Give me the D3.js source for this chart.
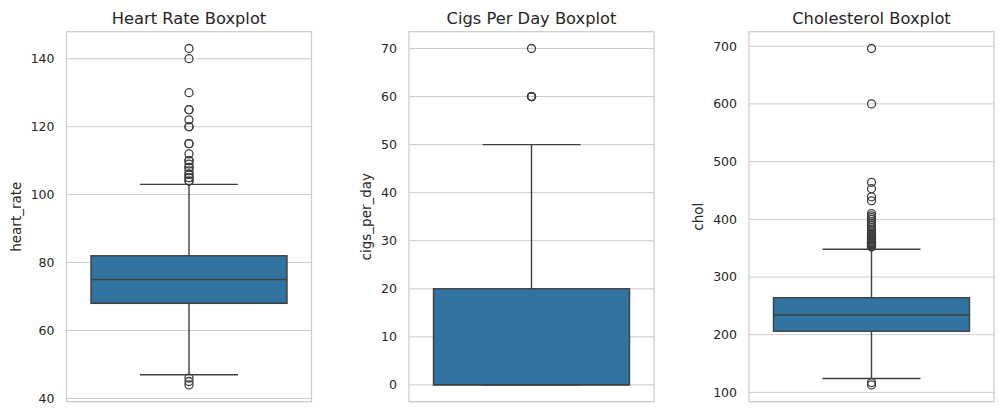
<!DOCTYPE html>
<html>
<head>
<meta charset="utf-8">
<script src="https://cdn.jsdelivr.net/npm/d3@7"></script>
<style>
  html, body { margin: 0; padding: 0; background: #ffffff; }
  svg { display: block; }
  text { font-family: "DejaVu Sans", sans-serif; fill: #262626; }
</style>
</head>
<body>
<svg id="chart" width="1005" height="417"></svg>
<script>
// ---- data ----
const panelTitles = ["Heart Rate Boxplot", "Cigs Per Day Boxplot", "Cholesterol Boxplot"];
const yLabels = ["heart_rate", "cigs_per_day", "chol"];

// [whiskerLow, Q1, median, Q3, whiskerHigh]
const heartRateStats = [47, 68, 75, 82, 103];
const heartRateOutliers = [44, 45, 46, 104, 104, 105, 105, 106, 106, 107, 108, 108, 109, 110, 110, 112, 115, 115, 120, 120, 122, 125, 125, 130, 140, 143];
const heartRateTicks = [40, 60, 80, 100, 120, 140];

const cigsStats = [0, 0, 0, 20, 50];
const cigsOutliers = [60, 60, 60, 60, 70];
const cigsTicks = [0, 10, 20, 30, 40, 50, 60, 70];

const cholStats = [124, 206, 234, 264, 348];
const cholOutliers = [113, 117, 352, 353, 354, 355, 356, 357, 358, 359, 360, 361, 362, 364, 365, 366, 368, 370, 372, 374, 376, 380, 383, 386, 390, 393, 396, 400, 403, 406, 410, 432, 439, 453, 464, 600, 696];
const cholTicks = [100, 200, 300, 400, 500, 600, 700];

const panelStats = [heartRateStats, cigsStats, cholStats];
const panelOutliers = [heartRateOutliers, cigsOutliers, cholOutliers];
const panelTicks = [heartRateTicks, cigsTicks, cholTicks];

// ---- layout ----
const panelLefts = [66.5, 409, 749];
const panelWidth = 245;
const plotTop = 31.7, plotBottom = 401.7;

const boxFill = "#3274a1";
const lineColor = "#3f3f3f";
const gridColor = "#cccccc";

const svg = d3.select("#chart");

panelTitles.forEach((title, i) => {
  const stats = panelStats[i];
  const outs = panelOutliers[i];
  const all = stats.concat(outs);
  const lo = d3.min(all), hi = d3.max(all);
  const pad = (hi - lo) * 0.05;
  const left = panelLefts[i], right = left + panelWidth;

  const y = d3.scaleLinear().domain([lo - pad, hi + pad]).range([plotBottom, plotTop]);
  const x = d3.scaleLinear().domain([-0.5, 0.5]).range([left, right]);

  const g = svg.append("g");

  // grid
  g.selectAll("line.grid").data(panelTicks[i]).join("line")
    .attr("class", "grid")
    .attr("x1", left).attr("x2", right)
    .attr("y1", d => y(d)).attr("y2", d => y(d))
    .attr("stroke", gridColor).attr("stroke-width", 1);

  // y axis tick labels
  const axis = d3.axisLeft(y).tickValues(panelTicks[i]).tickSize(0).tickPadding(12);
  const ag = g.append("g").attr("transform", `translate(${left},0)`).call(axis);
  ag.select(".domain").remove();
  ag.selectAll("text")
    .attr("font-family", "DejaVu Sans, sans-serif")
    .attr("font-size", 12.5)
    .attr("fill", "#262626");

  // whiskers
  const [wLo, q1, med, q3, wHi] = stats;
  g.append("line").attr("x1", x(0)).attr("x2", x(0)).attr("y1", y(q3)).attr("y2", y(wHi))
    .attr("stroke", lineColor).attr("stroke-width", 1.4);
  g.append("line").attr("x1", x(0)).attr("x2", x(0)).attr("y1", y(q1)).attr("y2", y(wLo))
    .attr("stroke", lineColor).attr("stroke-width", 1.4);
  [wLo, wHi].forEach(v => {
    g.append("line").attr("x1", x(-0.2)).attr("x2", x(0.2)).attr("y1", y(v)).attr("y2", y(v))
      .attr("stroke", lineColor).attr("stroke-width", 1.4);
  });

  // box
  g.append("rect")
    .attr("x", x(-0.4)).attr("width", x(0.4) - x(-0.4))
    .attr("y", y(q3)).attr("height", y(q1) - y(q3))
    .attr("fill", boxFill).attr("stroke", lineColor).attr("stroke-width", 1.4);
  g.append("line").attr("x1", x(-0.4)).attr("x2", x(0.4)).attr("y1", y(med)).attr("y2", y(med))
    .attr("stroke", lineColor).attr("stroke-width", 1.4);

  // outliers
  g.selectAll("circle.out").data(outs).join("circle")
    .attr("class", "out")
    .attr("cx", x(0)).attr("cy", d => y(d)).attr("r", 4)
    .attr("fill", "none").attr("stroke", lineColor).attr("stroke-width", 1.3);

  // frame
  g.append("rect").attr("x", left).attr("y", plotTop).attr("width", panelWidth).attr("height", plotBottom - plotTop)
    .attr("fill", "none").attr("stroke", gridColor).attr("stroke-width", 1.25);

  // title
  g.append("text").attr("x", (left + right) / 2).attr("y", 23.5)
    .attr("text-anchor", "middle").attr("font-size", 16.3).text(title);

  // y label
  let maxW = 0;
  ag.selectAll("text").each(function() { maxW = Math.max(maxW, this.getBBox().width); });
  const lx = left - 12 - maxW - 10;
  g.append("text").attr("transform", `translate(${lx},${(plotTop + plotBottom) / 2}) rotate(-90)`)
    .attr("text-anchor", "middle").attr("font-size", 13.5).text(yLabels[i]);
});
</script>
</body>
</html>
